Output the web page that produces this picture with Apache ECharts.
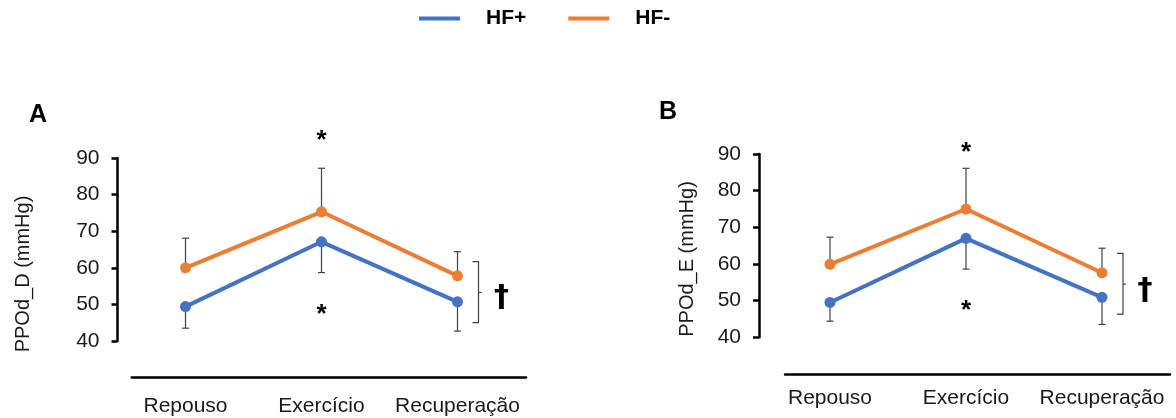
<!DOCTYPE html>
<html><head><meta charset="utf-8">
<script src="https://cdn.jsdelivr.net/npm/echarts@6/dist/echarts.min.js"></script>
<style>html,body{margin:0;padding:0;background:#fff}#c{width:1176px;height:418px}</style>
</head><body><div id="c"></div>
<script>
// ---- data ----
const categories = ['Repouso', 'Exercício', 'Recuperação'];
const yTicks = [40, 50, 60, 70, 80, 90];
const seriesNames = ['HF+', 'HF-'];
// Panel A: PPOd_D (mmHg)
const hfPlusA = [49.4, 67.1, 50.7];
const hfMinusA = [60.0, 75.3, 57.8];
const sdPlusA = [5.9, 8.4, 8.0];     // drawn downward
const sdMinusA = [8.1, 11.9, 6.6];   // drawn upward
const starsA = [[1, 94.7], [1, 47.1]];
const bracketA = [[2, 61.7, 45.0, 53.3]];
const daggerA = [[2, 51.6]];
// Panel B: PPOd_E (mmHg)
const hfPlusB = [49.5, 67.0, 50.9];
const hfMinusB = [59.9, 75.0, 57.6];
const sdPlusB = [5.1, 8.4, 7.4];
const sdMinusB = [7.4, 11.1, 6.7];
const starsB = [[1, 90.3], [1, 47.3]];
const bracketB = [[2, 62.9, 46.3, 54.5]];
const daggerB = [[2, 52.6]];

const FONT = 'Liberation Sans, Arial, sans-serif';
const BLUE = '#4472C4', ORANGE = '#ED7D31', ERR = '#404040', TXT = '#1a1a1a';

function errData(vals, sds, dir) {
  return vals.map((v, i) => [i, v, v + dir * sds[i]]);
}
function errSeries(name, data, axis) {
  return {
    type: 'custom', name: name + ' err', xAxisIndex: axis, yAxisIndex: axis, z: 1,
    data: data, silent: true,
    renderItem: function (params, api) {
      const p0 = api.coord([api.value(0), api.value(1)]);
      const p1 = api.coord([api.value(0), api.value(2)]);
      return { type: 'group', children: [
        { type: 'line', shape: { x1: p0[0], y1: p0[1], x2: p1[0], y2: p1[1] }, style: { stroke: ERR, lineWidth: 1.2 } },
        { type: 'line', shape: { x1: p1[0] - 3.5, y1: p1[1], x2: p1[0] + 3.5, y2: p1[1] }, style: { stroke: ERR, lineWidth: 1.2 } }
      ]};
    }
  };
}
function lineSeries(name, data, color, axis) {
  return {
    type: 'line', name: name, data: data, xAxisIndex: axis, yAxisIndex: axis, z: 3,
    symbol: 'circle', symbolSize: 11, color: color,
    lineStyle: { color: color, width: 4 }, itemStyle: { color: color }
  };
}
function textSeries(data, axis, text, font, dx) {
  return {
    type: 'custom', xAxisIndex: axis, yAxisIndex: axis, z: 4, silent: true, data: data,
    renderItem: function (params, api) {
      const p = api.coord([api.value(0), api.value(1)]);
      return { type: 'text', x: p[0] + dx, y: p[1], style: { text: text, font: font, fill: '#000', align: 'center', verticalAlign: 'middle' } };
    }
  };
}
function bracketSeries(data, axis, dx) {
  return {
    type: 'custom', xAxisIndex: axis, yAxisIndex: axis, z: 4, silent: true, data: data,
    renderItem: function (params, api) {
      const c = api.coord([api.value(0), api.value(1)]);
      const b = api.coord([api.value(0), api.value(2)]);
      const m = api.coord([api.value(0), api.value(3)]);
      const x = c[0] + dx;
      return { type: 'group', children: [
        { type: 'polyline', shape: { points: [[x, c[1]], [x + 6, c[1]], [x + 6, b[1]], [x, b[1]]] }, style: { stroke: ERR, lineWidth: 1.2, fill: null } },
        { type: 'line', shape: { x1: x + 6, y1: m[1], x2: x + 9, y2: m[1] }, style: { stroke: ERR, lineWidth: 1.2 } }
      ]};
    }
  };
}
function yAxisCfg(grid, offset) {
  return {
    type: 'value', gridIndex: grid, min: yTicks[0], max: yTicks[yTicks.length - 1], interval: 10, offset: offset,
    axisLine: { show: true, lineStyle: { color: '#000', width: 2.5 } },
    axisTick: { show: true, length: 6, lineStyle: { color: '#000', width: 2.5 } },
    axisLabel: { color: TXT, fontSize: 21, fontFamily: FONT, margin: 18 },
    splitLine: { show: false }
  };
}
function xAxisCfg(grid, offset, margin) {
  return {
    type: 'category', gridIndex: grid, data: categories, boundaryGap: true, offset: offset,
    axisLine: { show: false }, axisTick: { show: false },
    axisLabel: { color: TXT, fontSize: 21, fontFamily: FONT, margin: margin, interval: 0 }
  };
}
function xLineCfg(grid, offset) {
  return {
    type: 'value', gridIndex: grid, offset: offset, min: 0, max: 1,
    axisLine: { show: true, onZero: false, lineStyle: { color: '#000', width: 2.5 } },
    axisTick: { show: false }, axisLabel: { show: false }, splitLine: { show: false }
  };
}

const option = {
  animation: false,
  backgroundColor: '#fff',
  legend: {
    data: seriesNames, left: 419, top: 8, padding: 0, icon: 'rect', itemWidth: 41, itemHeight: 4, itemGap: 42,
    textStyle: { fontSize: 21, fontWeight: 'bold', color: '#000', fontFamily: FONT, padding: [0, 0, 0, 21] }
  },
  grid: [
    { left: 117.5, width: 408, top: 158, height: 183 },
    { left: 762, width: 408, top: 154, height: 183.3 },
    { left: 131.7, width: 394.3, top: 158, height: 183 },
    { left: 785, width: 385, top: 154, height: 183.3 }
  ],
  xAxis: [xAxisCfg(0, 36, 19), xAxisCfg(1, 36, 14), xLineCfg(2, 36.7), xLineCfg(3, 37)],
  yAxis: [yAxisCfg(0, 0), yAxisCfg(1, 3),
    { type: 'value', gridIndex: 2, show: false }, { type: 'value', gridIndex: 3, show: false }],
  graphic: [
    { type: 'text', x: 38, y: 115, style: { text: 'A', font: 'bold 25px ' + FONT, fill: '#000', align: 'center', verticalAlign: 'middle' } },
    { type: 'text', x: 668, y: 112, style: { text: 'B', font: 'bold 25px ' + FONT, fill: '#000', align: 'center', verticalAlign: 'middle' } },
    { type: 'text', x: 23.5, y: 274, rotation: Math.PI / 2, style: { text: 'PPOd_D (mmHg)', font: '20px ' + FONT, fill: TXT, align: 'center', verticalAlign: 'middle' } },
    { type: 'text', x: 687, y: 259, rotation: Math.PI / 2, style: { text: 'PPOd_E (mmHg)', font: '20px ' + FONT, fill: TXT, align: 'center', verticalAlign: 'middle' } }
  ],
  series: [
    errSeries('HF+A', errData(hfPlusA, sdPlusA, -1), 0),
    errSeries('HF-A', errData(hfMinusA, sdMinusA, 1), 0),
    lineSeries(seriesNames[0], hfPlusA, BLUE, 0),
    lineSeries(seriesNames[1], hfMinusA, ORANGE, 0),
    textSeries(starsA, 0, '*', 'bold 26px ' + FONT, 0),
    bracketSeries(bracketA, 0, 15),
    textSeries(daggerA, 0, '†', 'bold 30px DejaVu Sans', 44),
    errSeries('HF+B', errData(hfPlusB, sdPlusB, -1), 1),
    errSeries('HF-B', errData(hfMinusB, sdMinusB, 1), 1),
    lineSeries(seriesNames[0], hfPlusB, BLUE, 1),
    lineSeries(seriesNames[1], hfMinusB, ORANGE, 1),
    textSeries(starsB, 1, '*', 'bold 26px ' + FONT, 0),
    bracketSeries(bracketB, 1, 15),
    textSeries(daggerB, 1, '†', 'bold 30px DejaVu Sans', 43)
  ]
};
echarts.init(document.getElementById('c'), null, { renderer: 'canvas' }).setOption(option);
</script></body></html>
